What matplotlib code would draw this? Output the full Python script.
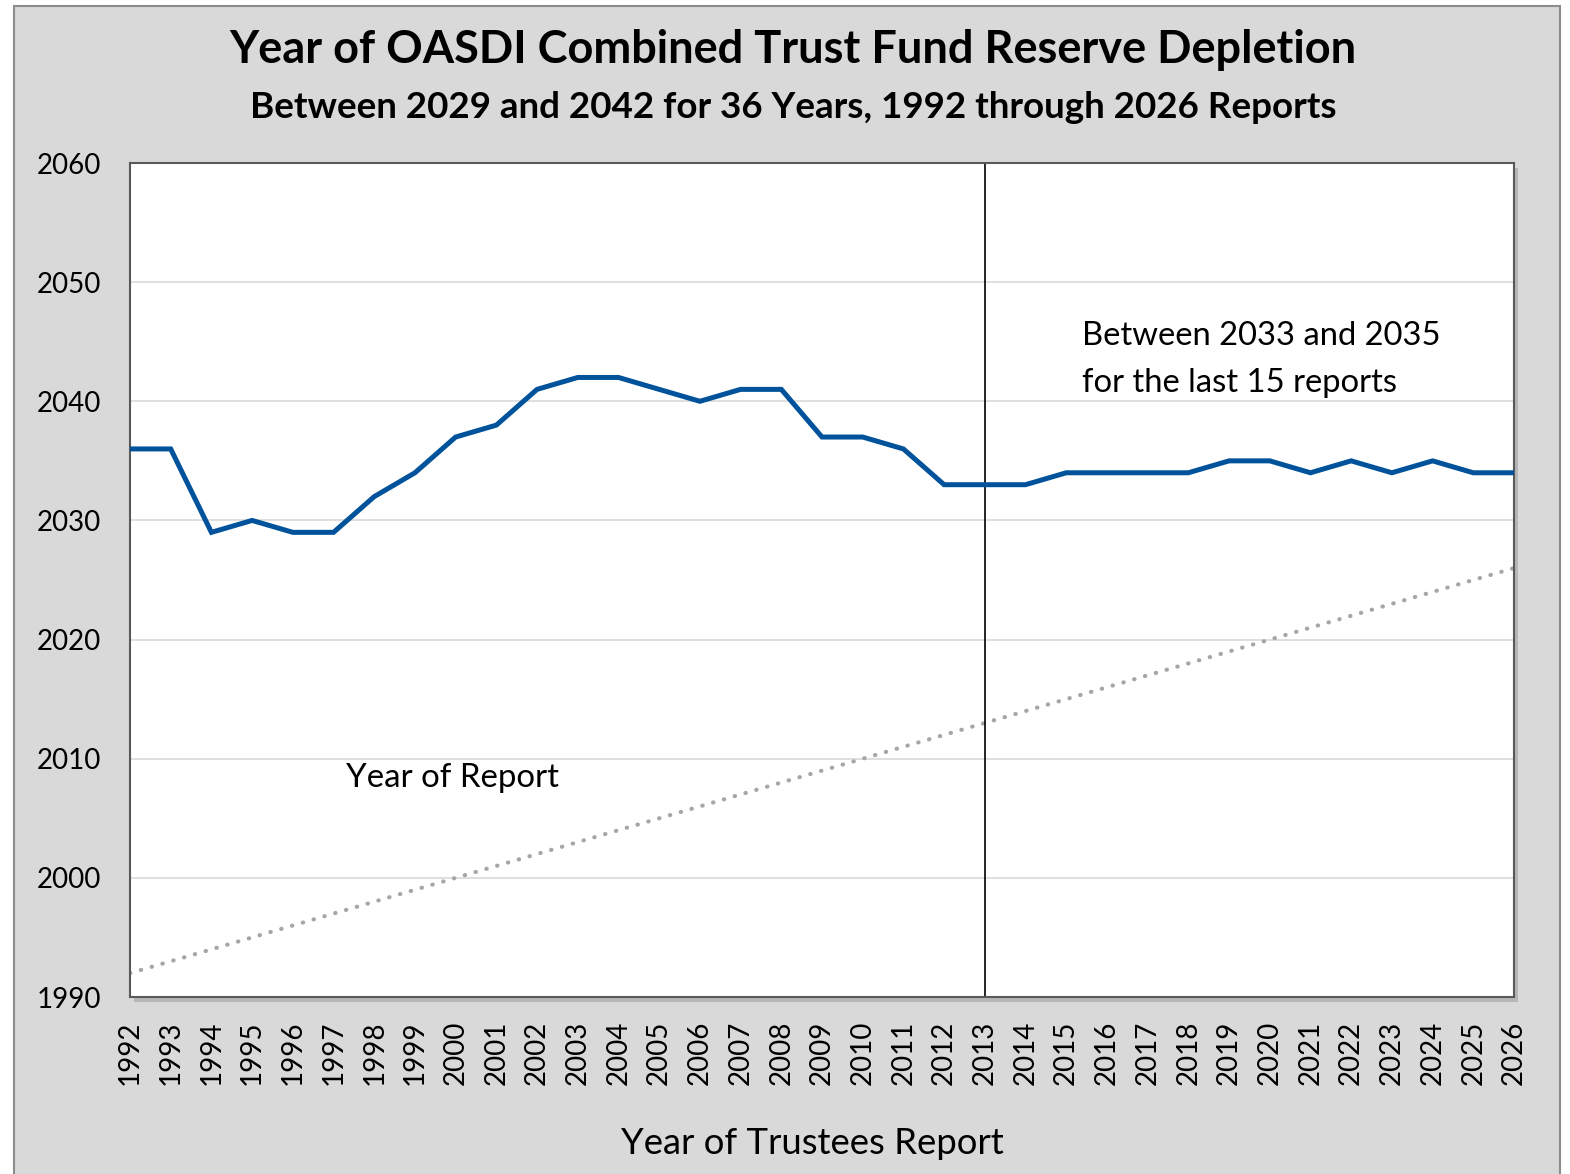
import matplotlib
matplotlib.use("Agg")
import matplotlib.pyplot as plt
from matplotlib.patches import Rectangle

plt.rcParams['font.family'] = ['Lato', 'DejaVu Sans']

report_years = list(range(1992, 2027))
depletion_years = [2036, 2036, 2029, 2030, 2029, 2029, 2032, 2034, 2037, 2038,
                   2041, 2042, 2042, 2041, 2040, 2041, 2041, 2037, 2037, 2036,
                   2033, 2033, 2033, 2034, 2034, 2034, 2034, 2035, 2035, 2034,
                   2035, 2034, 2035, 2034, 2034]
y_ticks = [1990, 2000, 2010, 2020, 2030, 2040, 2050, 2060]
marker_year = 2013

fig = plt.figure(figsize=(15.7, 11.74), dpi=100)
fig.patch.set_facecolor('white')
W, H = 1570, 1174
# outer grey panel
fig.patches.append(Rectangle((14 / W, -0.01), (1560 - 14) / W, 1 - 6 / H + 0.01,
                             transform=fig.transFigure, facecolor='#d9d9d9',
                             edgecolor='#8c8c8c', linewidth=1.5, zorder=0))

l, r, t, b = 130 / W, 1514 / W, 1 - 163 / H, 1 - 997 / H
# shadow
fig.patches.append(Rectangle((l + 4 / W, b - 5 / H), r - l, t - b,
                             transform=fig.transFigure, facecolor='#a0a0a0',
                             edgecolor='none', alpha=0.6, zorder=0.5))
ax = fig.add_axes([l, b, r - l, t - b])
ax.set_zorder(2)
ax.set_facecolor('white')

ax.plot(report_years, depletion_years, color='#00539b', linewidth=3.6,
        solid_joinstyle='miter', zorder=3)
ax.plot(report_years, report_years, color='#a6a6a6', linewidth=3,
        linestyle=(0, (0.1, 2.6)), dash_capstyle='round', zorder=2)
ax.axvline(marker_year, color='black', linewidth=1.2, zorder=2.5)

ax.set_xlim(1992, 2026)
ax.set_ylim(1990, 2060)
ax.set_yticks(y_ticks)
ax.set_yticklabels([str(v) for v in y_ticks])
ax.set_xticks(report_years)
ax.set_xticklabels([str(v) for v in report_years], rotation=90)
ax.grid(axis='y', color='#d9d9d9', linewidth=1.2)
ax.set_axisbelow(True)
ax.tick_params(axis='both', length=0, labelsize=20, colors='black')
ax.tick_params(axis='y', pad=21)
ax.tick_params(axis='x', pad=17)
for s in ax.spines.values():
    s.set_color('#595959')
    s.set_linewidth(1.5)

fig.text(812 / W, 1 - 1143 / H, 'Year of Trustees Report',
         ha='center', va='center', fontsize=26.3)

fig.text(793 / W, 1 - 50 / H, 'Year of OASDI Combined Trust Fund Reserve Depletion',
         ha='center', va='center', fontsize=32.5, fontweight='bold')
fig.text(793 / W, 1 - 107 / H, 'Between 2029 and 2042 for 36 Years, 1992 through 2026 Reports',
         ha='center', va='center', fontsize=26.5, fontweight='bold')

ax.text(2015.39, 2043.5, 'Between 2033 and 2035\nfor the last 15 reports',
        fontsize=23.6, ha='left', va='center', linespacing=1.72)
ax.text(1997.31, 2008.35, 'Year of Report', fontsize=23.8, ha='left', va='center')

fig.savefig('out.png', dpi=100)
